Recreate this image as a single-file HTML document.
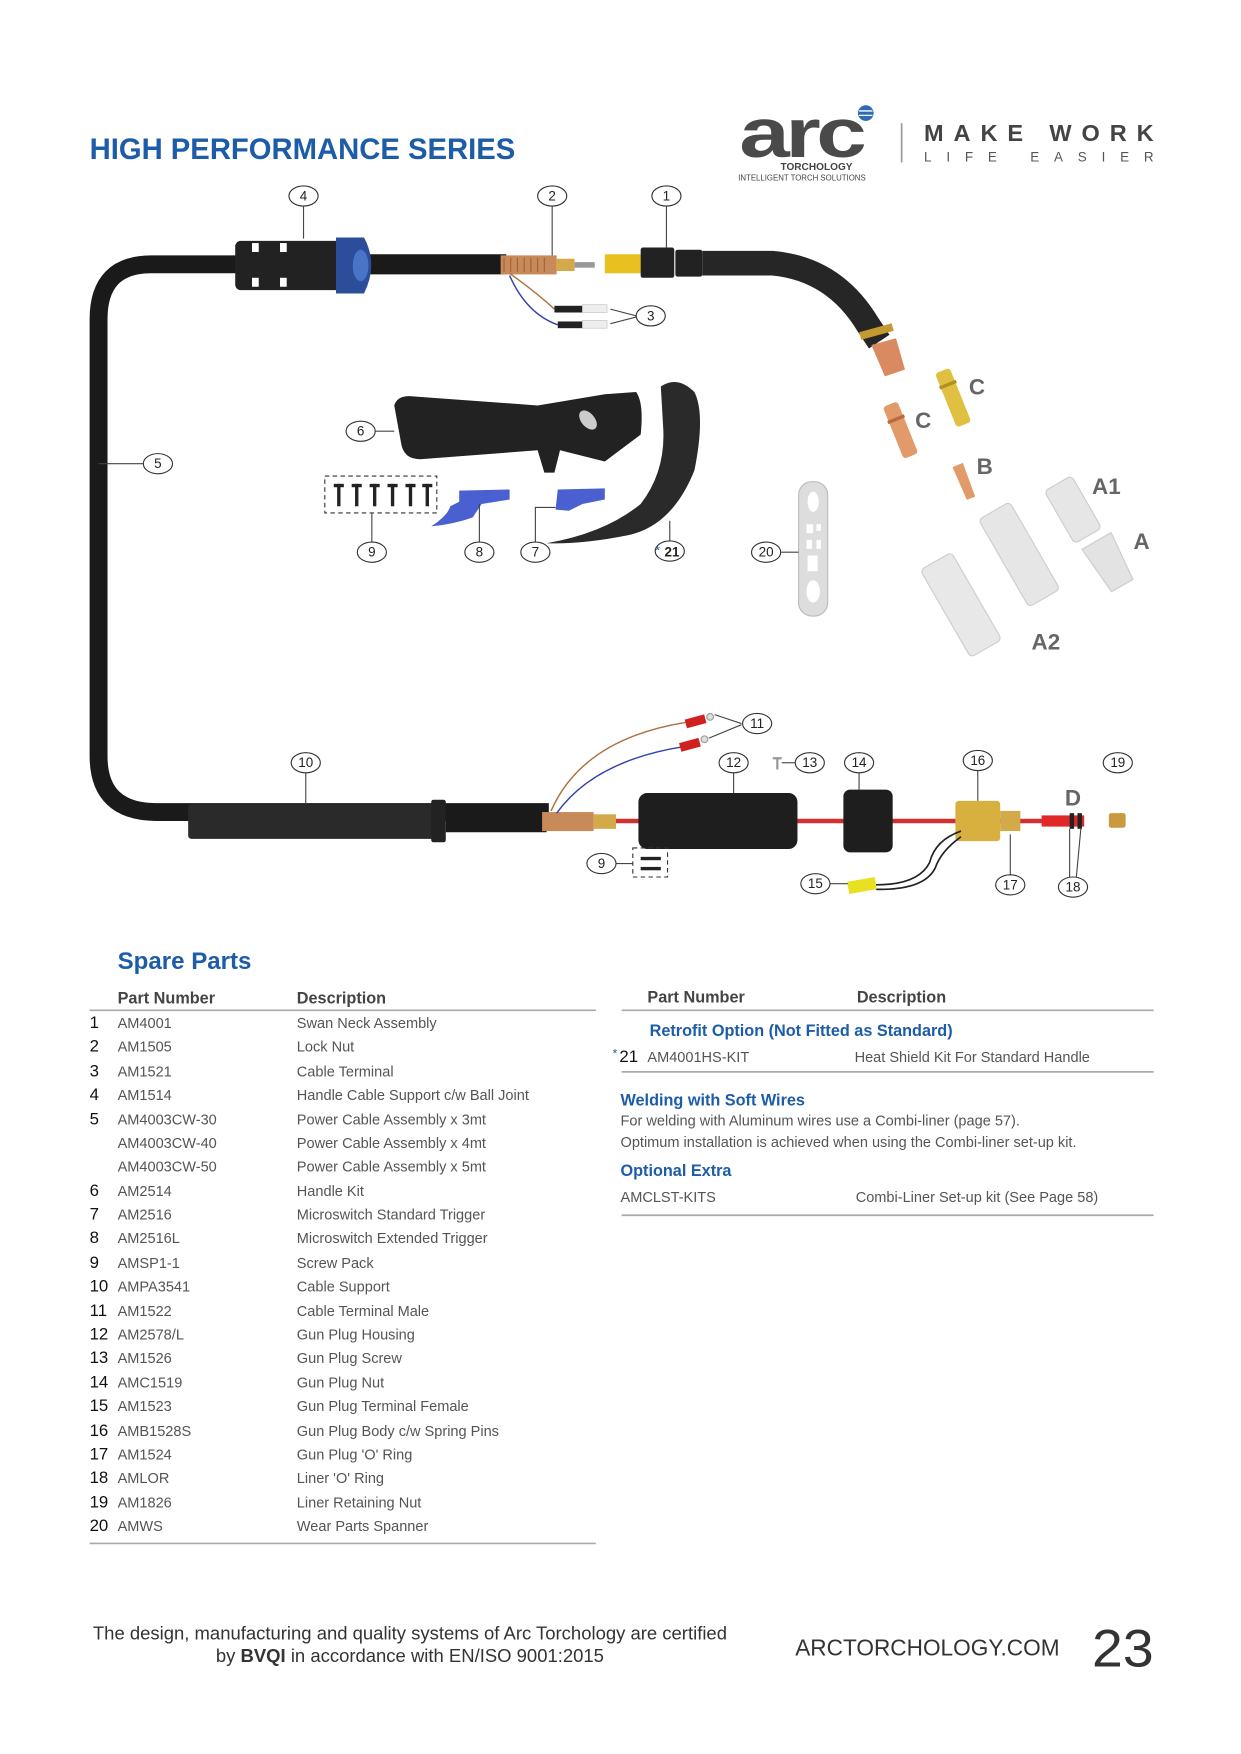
<!DOCTYPE html>
<html><head><meta charset="utf-8"><style>
html,body{margin:0;padding:0;background:#fff}
svg{display:block}
text{font-family:"Liberation Sans",sans-serif}
.cl{fill:#fff;stroke:#333;stroke-width:1}
.ct{font-size:12px;fill:#222;text-anchor:middle}
.ln{stroke:#444;stroke-width:1;fill:none}
.num{font-size:15px;fill:#111}
.pn{font-size:13px;fill:#555}
.bl{fill:#1d5ca8;font-weight:bold}
.lt{font-size:20px;fill:#666;font-weight:bold}
</style></head><body>
<svg width="1241" height="1754" viewBox="0 0 1108 1566" xmlns="http://www.w3.org/2000/svg">
<!-- header -->
<text x="80" y="142" font-size="26.5" class="bl" textLength="380" lengthAdjust="spacingAndGlyphs">HIGH PERFORMANCE SERIES</text>
<text x="660" y="140" font-size="62" font-weight="bold" fill="#4a4a4a" textLength="110" lengthAdjust="spacingAndGlyphs" letter-spacing="-3">arc</text>
<circle cx="773" cy="101" r="7" fill="#2d6cb5"/>
<path d="M767 99 h12 M767 103 h12" stroke="#fff" stroke-width="1.2"/>
<text x="729" y="152" font-size="9" font-weight="bold" fill="#444" text-anchor="middle">TORCHOLOGY</text>
<text x="716" y="161" font-size="7" fill="#444" text-anchor="middle">INTELLIGENT TORCH SOLUTIONS</text>
<line x1="805" y1="110" x2="805" y2="145" stroke="#999" stroke-width="1.5"/>
<text x="825" y="126" font-size="21" font-weight="bold" fill="#444" textLength="205" lengthAdjust="spacing">MAKE WORK</text>
<text x="825" y="144" font-size="12" fill="#555" textLength="205" lengthAdjust="spacing">LIFE EASIER</text>

<!-- main cable -->
<path d="M215 236 H135 Q88 236 88 285 V675 Q88 725 140 725 H490" fill="none" stroke="#1a1a1a" stroke-width="16"/>
<line x1="330" y1="236" x2="452" y2="236" stroke="#1a1a1a" stroke-width="18"/>
<!-- 4 support -->
<rect x="210" y="215" width="95" height="44" rx="5" fill="#222"/>
<rect x="225" y="217" width="6" height="8" fill="#fff"/><rect x="250" y="217" width="6" height="8" fill="#fff"/>
<rect x="225" y="248" width="6" height="8" fill="#fff"/><rect x="250" y="248" width="6" height="8" fill="#fff"/>
<path d="M300 212 H325 Q338 236 325 262 H300 Z" fill="#2c4d9a"/>
<ellipse cx="322" cy="237" rx="7" ry="14" fill="#4a74c8"/>
<!-- 2 -->
<rect x="447" y="228" width="50" height="17" fill="#c98a5a"/>
<path d="M450 230 v13 M456 230 v13 M462 230 v13 M468 230 v13 M474 230 v13 M480 230 v13 M486 230 v13" stroke="#a0603a" stroke-width="1"/>
<rect x="497" y="231" width="16" height="11" fill="#d4a94a"/>
<rect x="513" y="234" width="18" height="5" fill="#999"/>
<!-- 3 wires -->
<path d="M455 244 Q480 262 495 276" stroke="#b07040" stroke-width="1.3" fill="none"/>
<path d="M455 246 Q470 280 498 290" stroke="#3344aa" stroke-width="1.3" fill="none"/>
<rect x="495" y="273" width="25" height="6" fill="#222"/><rect x="498" y="287" width="22" height="6" fill="#222"/>
<rect x="520" y="272" width="22" height="7" fill="#eee" stroke="#bbb" stroke-width=".5"/>
<rect x="520" y="286" width="22" height="7" fill="#eee" stroke="#bbb" stroke-width=".5"/>
<path class="ln" d="M545 276 L568 282 M545 289 L568 283"/>
<!-- 1 swan neck -->
<rect x="540" y="227" width="32" height="17" fill="#e8c020"/>
<rect x="572" y="221" width="30" height="27" rx="2" fill="#222"/>
<rect x="603" y="223" width="24" height="24" rx="2" fill="#222"/>
<path d="M627 235 H690 Q745 240 775 290 L785 305" fill="none" stroke="#262626" stroke-width="22"/>
<path d="M768 300 L797 292" stroke="#c49a30" stroke-width="7"/>
<path d="M778 308 L800 302 L808 330 L790 336 Z" fill="#d98a60"/>
<!-- consumables -->
<g transform="translate(851,355) rotate(-22)"><rect x="-7" y="-26" width="14" height="52" rx="3" fill="#e0c040"/><rect x="-8" y="-14" width="16" height="3" fill="#b09020"/></g>
<g transform="translate(804,384) rotate(-22)"><rect x="-7" y="-25" width="14" height="50" rx="3" fill="#e39a6a"/><rect x="-8" y="-12" width="16" height="3" fill="#b86a40"/></g>
<g transform="translate(861,430) rotate(-22)"><path d="M-5 -16 L5 -16 L4 16 L-4 16 Z" fill="#e39a6a"/></g>
<g transform="translate(958,455) rotate(-30)"><rect x="-14" y="-27" width="28" height="54" rx="4" fill="#e6e6e6" stroke="#ccc"/></g>
<g transform="translate(990,502) rotate(-30)"><path d="M-15 -22 H15 L11 24 H-11 Z" fill="#e3e3e3" stroke="#ccc"/></g>
<g transform="translate(910,495) rotate(-30)"><rect x="-16" y="-45" width="32" height="90" rx="4" fill="#e6e6e6" stroke="#ccc"/></g>
<g transform="translate(858,540) rotate(-30)"><rect x="-16" y="-45" width="32" height="90" rx="4" fill="#e8e8e8" stroke="#ccc"/></g>
<text x="865" y="352" class="lt" font-size="15">C</text>
<text x="817" y="382" class="lt" font-size="15">C</text>
<text x="872" y="423" class="lt" font-size="15">B</text>
<text x="975" y="441" class="lt" font-size="15">A1</text>
<text x="1012" y="490" class="lt" font-size="15">A</text>
<text x="921" y="580" class="lt" font-size="15">A2</text>
<!-- 6 handle -->
<path d="M352 362 Q355 352 370 354 L480 362 L540 352 L568 350 Q575 360 572 388 L540 412 L500 402 L495 422 L486 422 L480 402 L375 410 Q360 410 358 395 Z" fill="#222"/>
<ellipse cx="525" cy="375" rx="6" ry="10" fill="#ccc" transform="rotate(-40 525 375)"/>
<!-- 21 heat shield -->
<path d="M590 345 Q605 335 620 350 Q630 370 620 420 Q600 470 560 478 Q520 486 488 485 Q540 476 572 450 Q595 420 592 380 Z" fill="#2a2a2a"/>
<!-- 9 screws -->
<rect x="290" y="425" width="100" height="33" fill="none" stroke="#333" stroke-dasharray="4 3"/>
<g fill="#222"><rect x="301" y="432" width="3" height="20"/><rect x="317" y="432" width="3" height="20"/><rect x="333" y="432" width="3" height="20"/><rect x="349" y="432" width="3" height="20"/><rect x="365" y="432" width="3" height="20"/><rect x="380" y="432" width="3" height="20"/>
<rect x="298" y="432" width="9" height="3"/><rect x="314" y="432" width="9" height="3"/><rect x="330" y="432" width="9" height="3"/><rect x="346" y="432" width="9" height="3"/><rect x="362" y="432" width="9" height="3"/><rect x="377" y="432" width="9" height="3"/></g>
<!-- triggers -->
<path d="M410 438 L455 437 L455 446 L430 450 L422 462 Q405 468 385 470 Q400 460 402 452 L410 448 Z" fill="#4a5fd0"/>
<path d="M498 437 L540 436 L540 446 L520 450 L508 456 L496 455 Z" fill="#4a5fd0"/>
<!-- 20 spanner -->
<rect x="713" y="430" width="26" height="120" rx="12" fill="#ddd" stroke="#bbb"/>
<g fill="#fff"><ellipse cx="726" cy="448" rx="5" ry="9"/><rect x="720" y="468" width="6" height="8"/><rect x="729" y="468" width="4" height="6"/><rect x="720" y="482" width="5" height="8"/><rect x="729" y="482" width="4" height="8"/><rect x="721" y="496" width="9" height="14"/><ellipse cx="726" cy="528" rx="6" ry="10"/></g>

<!-- bottom assembly -->
<rect x="168" y="718" width="225" height="31" rx="3" fill="#2a2a2a"/>
<rect x="385" y="714" width="13" height="38" rx="2" fill="#222"/>
<line x1="398" y1="733" x2="488" y2="733" stroke="#1a1a1a" stroke-width="20"/>
<line x1="540" y1="733" x2="960" y2="733" stroke="#d03030" stroke-width="4"/>
<rect x="484" y="725" width="46" height="17" fill="#c98a5a"/>
<rect x="530" y="727" width="20" height="13" fill="#d4a94a"/>
<path d="M492 724 Q520 660 612 645" stroke="#b07040" stroke-width="1.3" fill="none"/>
<path d="M497 726 Q530 680 608 667" stroke="#3344aa" stroke-width="1.3" fill="none"/>
<rect x="612" y="640" width="18" height="8" fill="#d02020" transform="rotate(-15 621 644)"/>
<rect x="607" y="661" width="18" height="8" fill="#d02020" transform="rotate(-15 616 665)"/>
<circle cx="634" cy="640" r="3" fill="#ddd" stroke="#999"/><circle cx="629" cy="660" r="3" fill="#ddd" stroke="#999"/>
<path class="ln" d="M638 638 L662 646 M633 659 L662 647"/>
<rect x="570" y="708" width="142" height="50" rx="8" fill="#1e1e1e"/>
<rect x="753" y="705" width="44" height="56" rx="6" fill="#1e1e1e"/>
<rect x="853" y="715" width="40" height="36" rx="3" fill="#d8b040"/>
<rect x="893" y="724" width="18" height="18" fill="#d4a94a"/>
<rect x="930" y="728" width="38" height="10" fill="#e02828"/>
<rect x="955" y="726" width="4" height="14" fill="#222"/><rect x="962" y="726" width="4" height="14" fill="#222"/>
<rect x="990" y="726" width="15" height="13" rx="2" fill="#c99a40"/>
<path d="M858 742 Q835 750 830 770 Q820 790 782 790" stroke="#222" stroke-width="1.5" fill="none"/>
<path d="M858 747 Q840 760 835 775 Q825 795 782 794" stroke="#222" stroke-width="1.5" fill="none"/>
<rect x="757" y="785" width="25" height="11" fill="#e8e020" transform="rotate(-10 770 790)"/>
<rect x="565" y="757" width="31" height="26" fill="none" stroke="#333" stroke-dasharray="4 3"/>
<rect x="572" y="765" width="18" height="3" fill="#222"/><rect x="572" y="774" width="18" height="3" fill="#222"/>
<path d="M690 677 h8 M694 677 v10" stroke="#999" stroke-width="2"/>
<text x="958" y="719" class="lt" font-size="14" text-anchor="middle">D</text>

<!-- leader lines -->
<g class="ln">
<line x1="271" y1="184" x2="271" y2="213"/><line x1="493" y1="184" x2="493" y2="228"/><line x1="595" y1="184" x2="595" y2="221"/>
<line x1="88" y1="414" x2="128" y2="414"/><line x1="335" y1="385" x2="352" y2="385"/>
<line x1="332" y1="458" x2="332" y2="484"/><line x1="428" y1="450" x2="428" y2="484"/>
<path d="M478 484 V453 H496"/><line x1="598" y1="483" x2="598" y2="465"/>
<line x1="697" y1="493" x2="713" y2="493"/>
<line x1="273" y1="690" x2="273" y2="718"/><line x1="655" y1="690" x2="655" y2="708"/>
<line x1="698" y1="681" x2="710" y2="681"/><line x1="767" y1="690" x2="767" y2="705"/>
<line x1="873" y1="688" x2="873" y2="715"/><line x1="902" y1="781" x2="902" y2="745"/>
<line x1="741" y1="789" x2="757" y2="789"/><line x1="550" y1="771" x2="565" y2="771"/>
<path d="M955 783 L955 740 M961 783 L965 740"/>
</g>
<!-- callouts -->
<g>
<ellipse class="cl" cx="271" cy="175" rx="13" ry="9"/><text class="ct" x="271" y="179">4</text>
<ellipse class="cl" cx="493" cy="175" rx="13" ry="9"/><text class="ct" x="493" y="179">2</text>
<ellipse class="cl" cx="595" cy="175" rx="13" ry="9"/><text class="ct" x="595" y="179">1</text>
<ellipse class="cl" cx="581" cy="282" rx="13" ry="9"/><text class="ct" x="581" y="286">3</text>
<ellipse class="cl" cx="141" cy="414" rx="13" ry="9"/><text class="ct" x="141" y="418">5</text>
<ellipse class="cl" cx="322" cy="385" rx="13" ry="9"/><text class="ct" x="322" y="389">6</text>
<ellipse class="cl" cx="332" cy="493" rx="13" ry="9"/><text class="ct" x="332" y="497">9</text>
<ellipse class="cl" cx="428" cy="493" rx="13" ry="9"/><text class="ct" x="428" y="497">8</text>
<ellipse class="cl" cx="478" cy="493" rx="13" ry="9"/><text class="ct" x="478" y="497">7</text>
<ellipse class="cl" cx="598" cy="492" rx="13" ry="9"/><text class="ct" x="600" y="497" font-size="15" font-weight="bold">21</text><text x="585" y="495" font-size="11" fill="#1d5ca8">*</text>
<ellipse class="cl" cx="684" cy="493" rx="13" ry="9"/><text class="ct" x="684" y="497">20</text>
<ellipse class="cl" cx="273" cy="681" rx="13" ry="9"/><text class="ct" x="273" y="685">10</text>
<ellipse class="cl" cx="676" cy="646" rx="13" ry="9"/><text class="ct" x="676" y="650">11</text>
<ellipse class="cl" cx="655" cy="681" rx="13" ry="9"/><text class="ct" x="655" y="685">12</text>
<ellipse class="cl" cx="723" cy="681" rx="13" ry="9"/><text class="ct" x="723" y="685">13</text>
<ellipse class="cl" cx="767" cy="681" rx="13" ry="9"/><text class="ct" x="767" y="685">14</text>
<ellipse class="cl" cx="873" cy="679" rx="13" ry="9"/><text class="ct" x="873" y="683">16</text>
<ellipse class="cl" cx="998" cy="681" rx="13" ry="9"/><text class="ct" x="998" y="685">19</text>
<ellipse class="cl" cx="537" cy="771" rx="13" ry="9"/><text class="ct" x="537" y="775">9</text>
<ellipse class="cl" cx="728" cy="789" rx="13" ry="9"/><text class="ct" x="728" y="793">15</text>
<ellipse class="cl" cx="902" cy="790" rx="13" ry="9"/><text class="ct" x="902" y="794">17</text>
<ellipse class="cl" cx="958" cy="792" rx="13" ry="9"/><text class="ct" x="958" y="796">18</text>
</g>

<!-- table left -->
<text x="105" y="865" font-size="21.5" class="bl">Spare Parts</text>
<text x="105" y="896" font-size="14.5" fill="#444" font-weight="bold">Part Number</text>
<text x="265" y="896" font-size="14.5" fill="#444" font-weight="bold">Description</text>
<line x1="80" y1="902" x2="532" y2="902" stroke="#aaa" stroke-width="1.5"/>
<g>
<text class="num" x="80" y="918">1</text><text class="pn" x="105" y="918">AM4001</text><text class="pn" x="265" y="918">Swan Neck Assembly</text>
<text class="num" x="80" y="939">2</text><text class="pn" x="105" y="939">AM1505</text><text class="pn" x="265" y="939">Lock Nut</text>
<text class="num" x="80" y="961">3</text><text class="pn" x="105" y="961">AM1521</text><text class="pn" x="265" y="961">Cable Terminal</text>
<text class="num" x="80" y="982">4</text><text class="pn" x="105" y="982">AM1514</text><text class="pn" x="265" y="982">Handle Cable Support c/w Ball Joint</text>
<text class="num" x="80" y="1004">5</text><text class="pn" x="105" y="1004">AM4003CW-30</text><text class="pn" x="265" y="1004">Power Cable Assembly x 3mt</text>
<text class="pn" x="105" y="1025">AM4003CW-40</text><text class="pn" x="265" y="1025">Power Cable Assembly x 4mt</text>
<text class="pn" x="105" y="1046">AM4003CW-50</text><text class="pn" x="265" y="1046">Power Cable Assembly x 5mt</text>
<text class="num" x="80" y="1068">6</text><text class="pn" x="105" y="1068">AM2514</text><text class="pn" x="265" y="1068">Handle Kit</text>
<text class="num" x="80" y="1089">7</text><text class="pn" x="105" y="1089">AM2516</text><text class="pn" x="265" y="1089">Microswitch Standard Trigger</text>
<text class="num" x="80" y="1110">8</text><text class="pn" x="105" y="1110">AM2516L</text><text class="pn" x="265" y="1110">Microswitch Extended Trigger</text>
<text class="num" x="80" y="1132">9</text><text class="pn" x="105" y="1132">AMSP1-1</text><text class="pn" x="265" y="1132">Screw Pack</text>
<text class="num" x="80" y="1153">10</text><text class="pn" x="105" y="1153">AMPA3541</text><text class="pn" x="265" y="1153">Cable Support</text>
<text class="num" x="80" y="1175">11</text><text class="pn" x="105" y="1175">AM1522</text><text class="pn" x="265" y="1175">Cable Terminal Male</text>
<text class="num" x="80" y="1196">12</text><text class="pn" x="105" y="1196">AM2578/L</text><text class="pn" x="265" y="1196">Gun Plug Housing</text>
<text class="num" x="80" y="1217">13</text><text class="pn" x="105" y="1217">AM1526</text><text class="pn" x="265" y="1217">Gun Plug Screw</text>
<text class="num" x="80" y="1239">14</text><text class="pn" x="105" y="1239">AMC1519</text><text class="pn" x="265" y="1239">Gun Plug Nut</text>
<text class="num" x="80" y="1260">15</text><text class="pn" x="105" y="1260">AM1523</text><text class="pn" x="265" y="1260">Gun Plug Terminal Female</text>
<text class="num" x="80" y="1282">16</text><text class="pn" x="105" y="1282">AMB1528S</text><text class="pn" x="265" y="1282">Gun Plug Body c/w Spring Pins</text>
<text class="num" x="80" y="1303">17</text><text class="pn" x="105" y="1303">AM1524</text><text class="pn" x="265" y="1303">Gun Plug 'O' Ring</text>
<text class="num" x="80" y="1324">18</text><text class="pn" x="105" y="1324">AMLOR</text><text class="pn" x="265" y="1324">Liner 'O' Ring</text>
<text class="num" x="80" y="1346">19</text><text class="pn" x="105" y="1346">AM1826</text><text class="pn" x="265" y="1346">Liner Retaining Nut</text>
<text class="num" x="80" y="1367">20</text><text class="pn" x="105" y="1367">AMWS</text><text class="pn" x="265" y="1367">Wear Parts Spanner</text>
</g>
<line x1="80" y1="1378" x2="532" y2="1378" stroke="#aaa" stroke-width="1.5"/>

<!-- table right -->
<text x="578" y="895" font-size="14.5" fill="#444" font-weight="bold">Part Number</text>
<text x="765" y="895" font-size="14.5" fill="#444" font-weight="bold">Description</text>
<line x1="555" y1="902" x2="1030" y2="902" stroke="#aaa" stroke-width="1.5"/>
<text x="580" y="925" font-size="14.5" class="bl">Retrofit Option (Not Fitted as Standard)</text>
<text x="547" y="944" font-size="11" fill="#1d5ca8">*</text>
<text class="num" x="553" y="948">21</text><text class="pn" x="578" y="948">AM4001HS-KIT</text><text class="pn" x="763" y="948">Heat Shield Kit For Standard Handle</text>
<line x1="555" y1="957" x2="1030" y2="957" stroke="#aaa" stroke-width="1.5"/>
<text x="554" y="987" font-size="14.5" class="bl">Welding with Soft Wires</text>
<text class="pn" x="554" y="1005">For welding with Aluminum wires use a Combi-liner (page 57).</text>
<text class="pn" x="554" y="1024">Optimum installation is achieved when using the Combi-liner set-up kit.</text>
<text x="554" y="1050" font-size="14.5" class="bl">Optional Extra</text>
<text class="pn" x="554" y="1073">AMCLST-KITS</text><text class="pn" x="764" y="1073">Combi-Liner Set-up kit (See Page 58)</text>
<line x1="555" y1="1085" x2="1030" y2="1085" stroke="#aaa" stroke-width="1.5"/>

<!-- footer -->
<text x="366" y="1464" font-size="16.5" fill="#333" text-anchor="middle">The design, manufacturing and quality systems of Arc Torchology are certified</text>
<text x="366" y="1484" font-size="16.5" fill="#333" text-anchor="middle">by <tspan font-weight="bold">BVQI</tspan> in accordance with EN/ISO 9001:2015</text>
<text x="710" y="1478" font-size="20.5" fill="#333" textLength="236" lengthAdjust="spacingAndGlyphs">ARCTORCHOLOGY.COM</text>
<text x="975" y="1488" font-size="47" fill="#333" font-weight="normal" textLength="55" lengthAdjust="spacingAndGlyphs">23</text>
</svg>
</body></html>
